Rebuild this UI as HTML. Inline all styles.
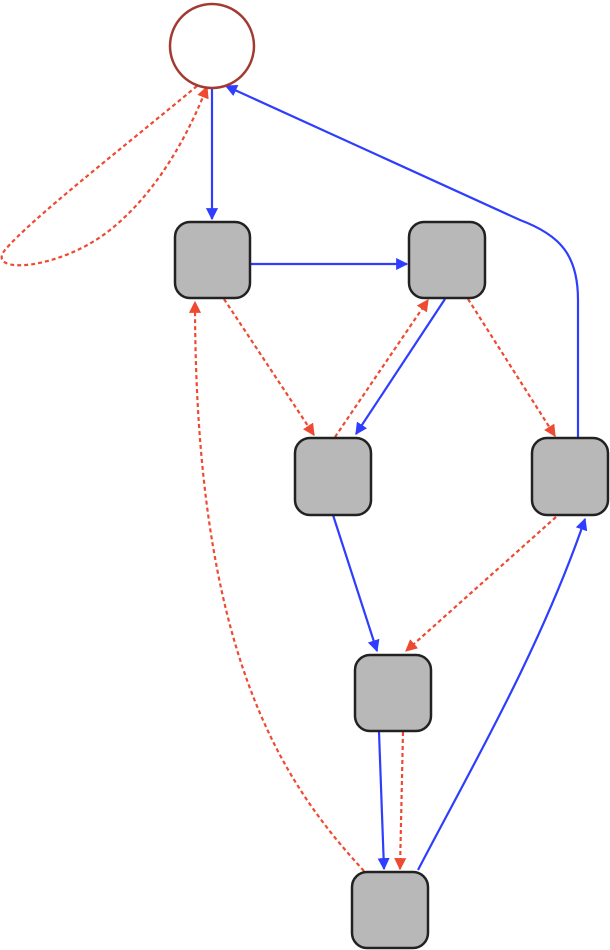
<!DOCTYPE html>
<html><head><meta charset="utf-8"><style>html,body{margin:0;padding:0;background:#fff;width:610px;height:950px;overflow:hidden}</style></head>
<body>
<svg width="610" height="950" viewBox="0 0 610 950" xmlns="http://www.w3.org/2000/svg">
<defs>
<marker id="ab" viewBox="0 0 10 10" refX="9" refY="5" markerWidth="5.5" markerHeight="5.5" orient="auto"><path d="M0,0L10,5L0,10z" fill="#2f3dff"/></marker>
<marker id="ar" viewBox="0 0 10 10" refX="9" refY="5" markerWidth="5.5" markerHeight="5.5" orient="auto"><path d="M0,0L10,5L0,10z" fill="#ee4a32"/></marker>
</defs>
<g fill="none" stroke-width="2.2">
<g stroke="#2f3dff" marker-end="url(#ab)">
<path d="M212,88 L212,219"/>
<path d="M250,264 L407,264"/>
<path d="M445,299 L356,434"/>
<path d="M333,515 L377,651"/>
<path d="M379,732 L384,869"/>
<path d="M418,870 C470,770 540,650 585,519"/>
<path d="M578,438 L578,300 C578,255 560,235 520,220 L226,86"/>
</g>
<g stroke="#ee4a32" stroke-dasharray="4,3" marker-end="url(#ar)">
<path d="M197,86 C120,150 30,220 5,250 C-15,275 60,270 110,230 C160,190 190,130 207,87"/>
<path d="M224,299 L314,435"/>
<path d="M335,437 L428,300"/>
<path d="M468,299 L555,436"/>
<path d="M556,517 L406,651"/>
<path d="M403,732 L400,869"/>
<path d="M364,871 C280,780 195,650 195,302"/>
</g>
</g>
<circle cx="212" cy="46" r="42" fill="#fff" stroke="#a33a32" stroke-width="2.5"/>
<g fill="#b8b8b8" stroke="#222" stroke-width="2.5">
<rect x="175" y="222" width="75" height="76" rx="15"/>
<rect x="409" y="222" width="76" height="76" rx="15"/>
<rect x="295" y="438" width="76" height="77" rx="15"/>
<rect x="532" y="438" width="76" height="77" rx="15"/>
<rect x="355" y="655" width="76" height="76" rx="15"/>
<rect x="352" y="872" width="76" height="76" rx="15"/>
</g>
</svg>
</body></html>
